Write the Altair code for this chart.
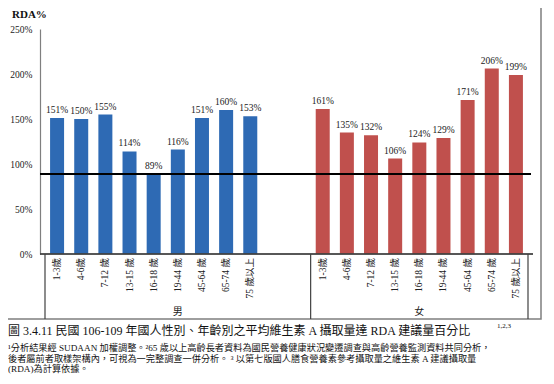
import altair as alt
import pandas as pd

# ---- data ----
age_labels = ["1-3歲", "4-6歲", "7-12 歲", "13-15 歲", "16-18 歲", "19-44 歲", "45-64 歲", "65-74 歲", "75 歲以上"]
male_values = [151, 150, 155, 114, 89, 116, 151, 160, 153]
female_values = [161, 135, 132, 106, 124, 129, 171, 206, 199]
groups = ["男", "女"]
y_ticks = [0, 50, 100, 150, 200, 250]
reference_value = 89

title_text = "RDA%"
caption_text = "圖 3.4.11 民國 106-109 年國人性別、年齡別之平均維生素 A 攝取量達 RDA 建議量百分比"
caption_sup = "1,2,3"
footnotes = [
    "¹分析結果經 SUDAAN 加權調整。²65 歲以上高齡長者資料為國民營養健康狀況變遷調查與高齡營養監測資料共同分析，",
    "後者屬前者取樣架構內，可視為一完整調查一併分析。 ³ 以第七版國人膳食營養素參考攝取量之維生素 A 建議攝取量",
    "(RDA)為計算依據。",
]

# ---- build tables ----
rows = []
for i, (lab, v) in enumerate(zip(age_labels, male_values)):
    rows.append({"slot": i + 0.5, "age": lab, "value": v, "group": groups[0], "label": f"{v}%"})
for i, (lab, v) in enumerate(zip(age_labels, female_values)):
    rows.append({"slot": i + 11.5, "age": lab, "value": v, "group": groups[1], "label": f"{v}%"})
df = pd.DataFrame(rows)

grp_df = pd.DataFrame({"slot": [5.5, 15.5], "group": groups})
sep_df = pd.DataFrame({"pos": [0, 11, 20]})

SERIF = "'Liberation Serif', 'Noto Sans CJK TC', serif"
W, H = 493, 225

xs = alt.Scale(domain=[0, 20], nice=False, zero=False)
ys = alt.Scale(domain=[0, 250], nice=False)

base = alt.Chart(df)

bars = base.mark_bar(size=14).encode(
    x=alt.X("slot:Q", scale=xs, axis=None),
    y=alt.Y("value:Q", scale=ys, title=None,
            axis=alt.Axis(values=y_ticks, labelExpr="datum.value + '%'", grid=False, ticks=False,
                          domainColor="#7f7f7f", domainWidth=1.2, labelFont=SERIF, labelFontSize=9.5,
                          labelColor="#222222", labelPadding=8)),
    color=alt.Color("group:N", scale=alt.Scale(domain=groups, range=["#2E6AB4", "#C0504D"]), legend=None),
)

vlabels = base.mark_text(baseline="bottom", dy=-3, font=SERIF, fontSize=9.5, color="#222222").encode(
    x=alt.X("slot:Q", scale=xs), y=alt.Y("value:Q", scale=ys), text="label:N")

ticklabels = base.mark_text(angle=270, align="right", baseline="middle", font=SERIF, fontSize=9.5,
                            color="#222222").encode(
    x=alt.X("slot:Q", scale=xs), y=alt.value(H + 4), text="age:N")

grplabels = alt.Chart(grp_df).mark_text(baseline="middle", font=SERIF, fontSize=10, color="#222222").encode(
    x=alt.X("slot:Q", scale=xs), y=alt.value(H + 58), text="group:N")

seps = alt.Chart(sep_df).mark_rule(color="#404040", strokeWidth=1.2).encode(
    x=alt.X("pos:Q", scale=xs), y=alt.value(H), y2=alt.value(H + 65))

xdomain = alt.Chart(sep_df).mark_rule(color="#404040", strokeWidth=1.2).encode(
    x=alt.value(0), x2=alt.value(W), y=alt.value(H))

refline = alt.Chart(pd.DataFrame({"r": [reference_value]})).mark_rule(color="black", strokeWidth=2).encode(
    y=alt.Y("r:Q", scale=ys), x=alt.value(0), x2=alt.value(W - 2))

frame = alt.Chart(pd.DataFrame({"a": [0]})).mark_rect(fill=None, stroke="#7f7f7f", strokeWidth=1.5).encode(
    x=alt.value(-33), x2=alt.value(501), y=alt.value(-24), y2=alt.value(290))

title = alt.Chart(pd.DataFrame({"t": [title_text]})).mark_text(
    align="left", baseline="middle", font=SERIF, fontSize=11, fontWeight="bold", color="#111111").encode(
    x=alt.value(-28), y=alt.value(-14), text="t:N")

caption = alt.Chart(pd.DataFrame({"t": [caption_text]})).mark_text(
    align="left", baseline="middle", font=SERIF, fontSize=12, color="#111111").encode(
    x=alt.value(-32), y=alt.value(302), text="t:N")

caption_s = alt.Chart(pd.DataFrame({"t": [caption_sup]})).mark_text(
    align="left", baseline="middle", font=SERIF, fontSize=7, color="#111111").encode(
    x=alt.value(457), y=alt.value(297), text="t:N")

fn_layers = []
for k, line in enumerate(footnotes):
    fn_layers.append(
        alt.Chart(pd.DataFrame({"t": [line]})).mark_text(
            align="left", baseline="middle", font=SERIF, fontSize=9.2, color="#111111").encode(
            x=alt.value(-32), y=alt.value(319 + k * 10.5), text="t:N")
    )

chart = alt.layer(frame, bars, refline, vlabels, ticklabels, grplabels, seps, xdomain, title, caption,
                  caption_s, *fn_layers).properties(
    width=W, height=H,
    autosize=alt.AutoSizeParams(type="none"),
    padding={"left": 32, "top": 21, "right": 12, "bottom": 122},
    background="white",
).configure_view(stroke=None)

chart.save("out.html", embed_options={"renderer": "svg", "actions": False})
